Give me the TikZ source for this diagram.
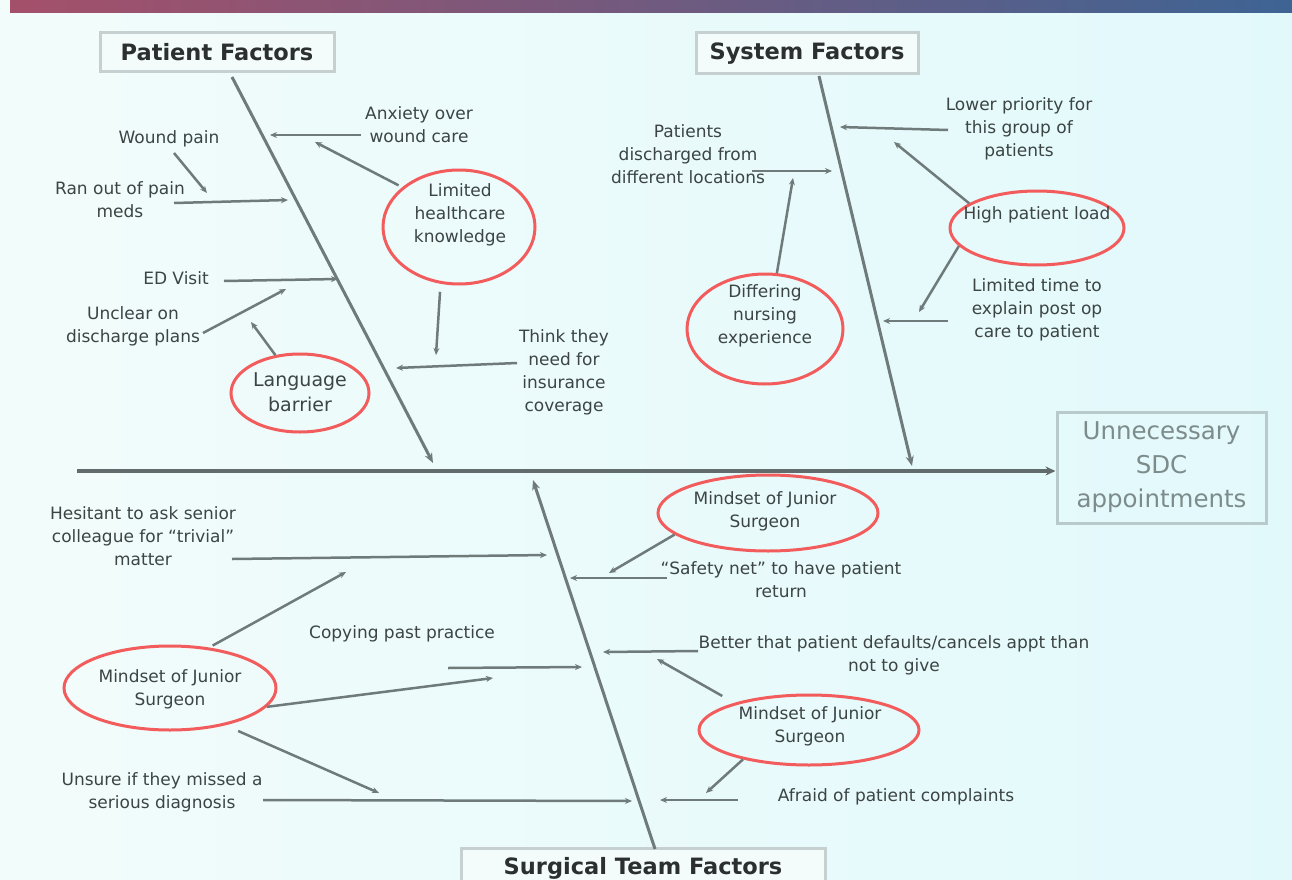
\documentclass[tikz,border=0pt]{standalone}
\usepackage{fontspec}
\setmainfont{DejaVu Sans}
\usetikzlibrary{arrows.meta,shapes.geometric}
\definecolor{bgL}{HTML}{F2FCFB}
\definecolor{bgR}{HTML}{E2F9FB}
\definecolor{banL}{HTML}{A4506A}
\definecolor{banM}{HTML}{86597F}
\definecolor{banR}{HTML}{3E6494}
\definecolor{txtc}{HTML}{3C4444}
\definecolor{ttlc}{HTML}{2B2F2F}
\definecolor{boxc}{HTML}{C6D0D0}
\definecolor{boxf}{HTML}{F4FBFB}
\definecolor{effc}{HTML}{B9CACC}
\definecolor{efft}{HTML}{7D8B8B}
\definecolor{redc}{HTML}{F25C5C}
\definecolor{linec}{HTML}{6F7A7A}
\definecolor{spinec}{HTML}{636C6C}
\begin{document}
\begin{tikzpicture}[x=1pt,y=-1pt,
  lbl/.style={font=\fontsize{17}{23}\selectfont,text=txtc,align=center,inner sep=0pt},
  ttl/.style={draw=boxc,line width=3pt,fill=boxf,font=\bfseries\fontsize{22.5}{27}\selectfont,text=ttlc,inner sep=0pt},
  oval/.style={ellipse,draw=redc,line width=3pt,inner sep=0pt},
  bone/.style={draw=linec,line width=3pt,-{Stealth[length=10pt,width=8pt]}},
  twig/.style={draw=linec,line width=2.5pt,-{Stealth[length=7pt,width=6pt]}}]
\path[use as bounding box] (0,0) rectangle (1292,880);
\clip (0,0) rectangle (1292,880);
\fill[left color=bgL,right color=bgR] (0,0) rectangle (1292,880);
\fill[left color=banL,middle color=banM,right color=banR] (10,0) rectangle (1292,13);

% titles and effect
\node[ttl,minimum width=234pt,minimum height=39pt] (pf) at (217,52.5) {Patient Factors};
\node[ttl,minimum width=222pt,minimum height=41pt] (sf) at (807,53.5) {System Factors};
\node[ttl,minimum width=364pt,minimum height=40pt] (stf) at (643,868) {Surgical Team Factors};
\node[draw=effc,line width=3pt,minimum width=209pt,minimum height=111pt,text=efft,align=center,
      font=\fontsize{24.5}{34}\selectfont,inner sep=0pt] (eff) at (1161.5,467.5) {Unnecessary\\SDC\\appointments};

% spine
\coordinate (sp0) at (77,471);
\draw[draw=spinec,line width=4pt,-{Stealth[length=10pt,width=9pt]}] (sp0) -- (sp0 -| eff.west);

% bones
\coordinate (pb0) at (232,77);  \coordinate (pb1) at (433,463);
\coordinate (sb0) at (819,76);  \coordinate (sb1) at (912,466);
\coordinate (tb0) at (655,849); \coordinate (tb1) at (533,480);
\draw[bone] (pb0) -- (pb1);
\draw[bone] (sb0) -- (sb1);
\draw[bone] (tb0) -- (tb1);

% ---------- patient factors ----------
\node[oval,minimum width=152pt,minimum height=114pt] (lhk) at (459,227) {};
\node[lbl] (lhkt) at (460,215) {Limited\\healthcare\\knowledge};
\node[oval,minimum width=138pt,minimum height=78pt] (lb) at (300,393) {};
\node[lbl,font=\fontsize{19}{25}\selectfont] (lbt) at (300,392.5) {Language\\barrier};

\node[lbl] (anx) at (419,125) {Anxiety over\\wound care};
\node[lbl] (wp) at (169,139) {Wound pain};
\node[lbl] (ro) at (120,199.5) {Ran out of pain\\meds};
\node[lbl] (ed) at (176,278) {ED Visit};
\node[lbl] (uc) at (133,326) {Unclear on\\discharge plans};
\node[lbl] (tt) at (564,372.5) {Think they\\need for\\insurance\\coverage};

\coordinate (p1s) at (361,135); \coordinate (p1e) at (270,135);
\coordinate (p2e) at (315,142);
\coordinate (p3s) at (174,153); \coordinate (p3e) at (207,193);
\coordinate (p4s) at (174,203); \coordinate (p4e) at (288,200);
\coordinate (p5s) at (224,281); \coordinate (p5e) at (338,279);
\coordinate (p6s) at (203,333); \coordinate (p6e) at (286,289);
\coordinate (p7e) at (251,322);
\coordinate (p8e) at (436,355);
\coordinate (p9s) at (517,363); \coordinate (p9e) at (396,368);
\draw[twig] (p1s) -- (p1e);
\draw[twig,shorten <=4pt] (lhk.145) -- (p2e);
\draw[twig] (p3s) -- (p3e);
\draw[twig] (p4s) -- (p4e);
\draw[twig] (p5s) -- (p5e);
\draw[twig] (p6s) -- (p6e);
\draw[twig] (lb.123) -- (p7e);
\draw[twig,shorten <=8pt] (lhk.252) -- (p8e);
\draw[twig] (p9s) -- (p9e);

% ---------- system factors ----------
\node[oval,minimum width=174pt,minimum height=74pt] (hpl) at (1037,228) {};
\node[lbl] (hplt) at (1037,215) {High patient load};
\node[oval,minimum width=156pt,minimum height=110pt] (dne) at (765,329) {};
\node[lbl] (dnet) at (765,316) {Differing\\nursing\\experience};

\node[lbl] (lpf) at (1019,129) {Lower priority for\\this group of\\patients};
\node[lbl] (pd) at (688,154.5) {Patients\\discharged from\\different locations};
\node[lbl] (lt) at (1037,310) {Limited time to\\explain post op\\care to patient};

\coordinate (s1s) at (948,130); \coordinate (s1e) at (840,127);
\coordinate (s2e) at (894,142);
\coordinate (s3s) at (752,171); \coordinate (s3e) at (832,171);
\coordinate (s4e) at (793,178);
\coordinate (s5e) at (919,312);
\coordinate (s6s) at (948,321); \coordinate (s6e) at (883,321);
\draw[twig] (s1s) -- (s1e);
\draw[twig] (hpl.160) -- (s2e);
\draw[twig] (s3s) -- (s3e);
\draw[twig] (dne.78) -- (s4e);
\draw[twig] (hpl.193) -- (s5e);
\draw[twig] (s6s) -- (s6e);

% ---------- surgical team factors ----------
\node[oval,minimum width=220pt,minimum height=76pt] (tm) at (768,513) {};
\node[lbl] (tmt) at (765,511.5) {Mindset of Junior\\Surgeon};
\node[oval,minimum width=212pt,minimum height=84pt] (lm) at (170,688) {};
\node[lbl] (lmt) at (170,689) {Mindset of Junior\\Surgeon};
\node[oval,minimum width=220pt,minimum height=70pt] (bm) at (809,730) {};
\node[lbl] (bmt) at (810,726.5) {Mindset of Junior\\Surgeon};

\node[lbl] (hs) at (143,536) {Hesitant to ask senior\\colleague for “trivial”\\matter};
\node[lbl] (cp) at (402,634) {Copying past practice};
\node[lbl] (un) at (162,792.5) {Unsure if they missed a\\serious diagnosis};
\node[lbl] (sn) at (781,580) {“Safety net” to have patient\\return};
\node[lbl] (bt) at (894,655) {Better that patient defaults/cancels appt than\\not to give};
\node[lbl] (af) at (896,797) {Afraid of patient complaints};

\coordinate (t1s) at (232,559); \coordinate (t1e) at (547,555);
\coordinate (t2e) at (346,572);
\coordinate (t3s) at (448,668); \coordinate (t3e) at (582,667);
\coordinate (t4e) at (493,678);
\coordinate (t5e) at (379,793);
\coordinate (t6s) at (263,800); \coordinate (t6e) at (632,801);
\coordinate (t7e) at (609,573);
\coordinate (t8s) at (667,578); \coordinate (t8e) at (570,578);
\coordinate (t9s) at (698,651); \coordinate (t9e) at (603,652);
\coordinate (t10e) at (657,659);
\coordinate (t11e) at (706,793);
\coordinate (t12s) at (738,800); \coordinate (t12e) at (660,800);
\draw[twig] (t1s) -- (t1e);
\draw[twig,shorten <=4pt] (lm.46) -- (t2e);
\draw[twig] (t3s) -- (t3e);
\draw[twig] (lm.349) -- (t4e);
\draw[twig,shorten <=14pt] (lm.326) -- (t5e);
\draw[twig] (t6s) -- (t6e);
\draw[twig] (tm.193) -- (t7e);
\draw[twig] (t8s) -- (t8e);
\draw[twig] (t9s) -- (t9e);
\draw[twig,shorten <=14pt] (bm.160) -- (t10e);
\draw[twig] (bm.204) -- (t11e);
\draw[twig] (t12s) -- (t12e);
\end{tikzpicture}
\end{document}
